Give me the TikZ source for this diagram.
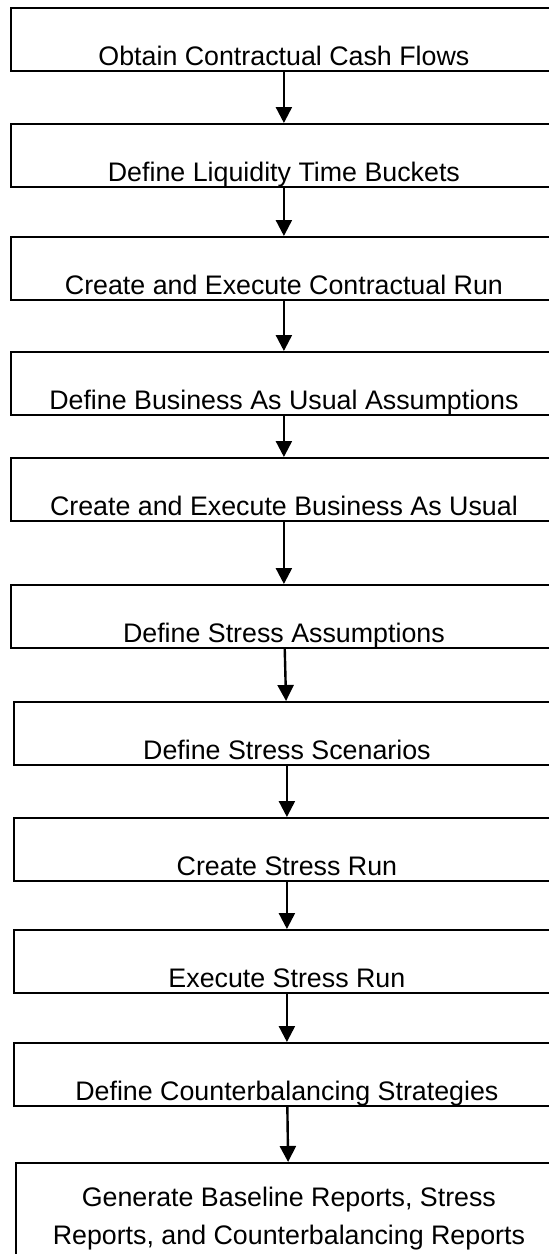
\documentclass[tikz,border=0pt]{standalone}
\usepackage{fontspec}
\setmainfont{Liberation Sans}
\usetikzlibrary{arrows.meta,positioning}
\tikzset{
    %Define standard arrow tip
    >={Triangle[width=8pt,length=8pt]},
    %Define style for boxes
    stepbox/.style={
           rectangle,
           draw=black, line width=0.9pt,
           minimum width=273pt,
           inner sep=0pt,
           text height=29pt,
           text depth=2.5pt,
           font=\fontsize{13.4pt}{19pt}\selectfont,
           anchor=north west},
    % Define arrow style
    pil/.style={
           ->,
           line width=1.2pt}
}

\begin{document}
\begin{tikzpicture}[x=0.5pt,y=-0.5pt]
\useasboundingbox (0,0) rectangle (549,1254);
\clip (0,0) rectangle (549,1254);
 %nodes
\node[stepbox](1) at (10,7){Obtain Contractual Cash Flows};
\node[stepbox](2) at (10,123){Define Liquidity Time Buckets};
\node[stepbox](3) at (10,236){Create and Execute Contractual Run};
\node[stepbox](4) at (10,351){Define Business As Usual Assumptions};
\node[stepbox](5) at (10,457){Create and Execute Business As Usual};
\node[stepbox](6) at (10,584){Define Stress Assumptions};
\node[stepbox](7) at (13,701){Define Stress Scenarios};
\node[stepbox](8) at (13,817){Create Stress Run};
\node[stepbox](9) at (13,929){Execute Stress Run};
\node[stepbox](10) at (13,1042){Define Counterbalancing Strategies};
\node[stepbox, text height=, text depth=, minimum height=56pt, align=center](11) at (15,1162){Generate Baseline Reports, Stress\\Reports, and Counterbalancing Reports};

 \path[pil]
    (1) edge (2)
    (2) edge (3)
    (3) edge (4)
    (4) edge (5)
    (5) edge (6)
    (6) edge (7)
    (7) edge (8)
    (8) edge (9)
    (9) edge (10)
    (10) edge (11);

\end{tikzpicture}
\end{document}
